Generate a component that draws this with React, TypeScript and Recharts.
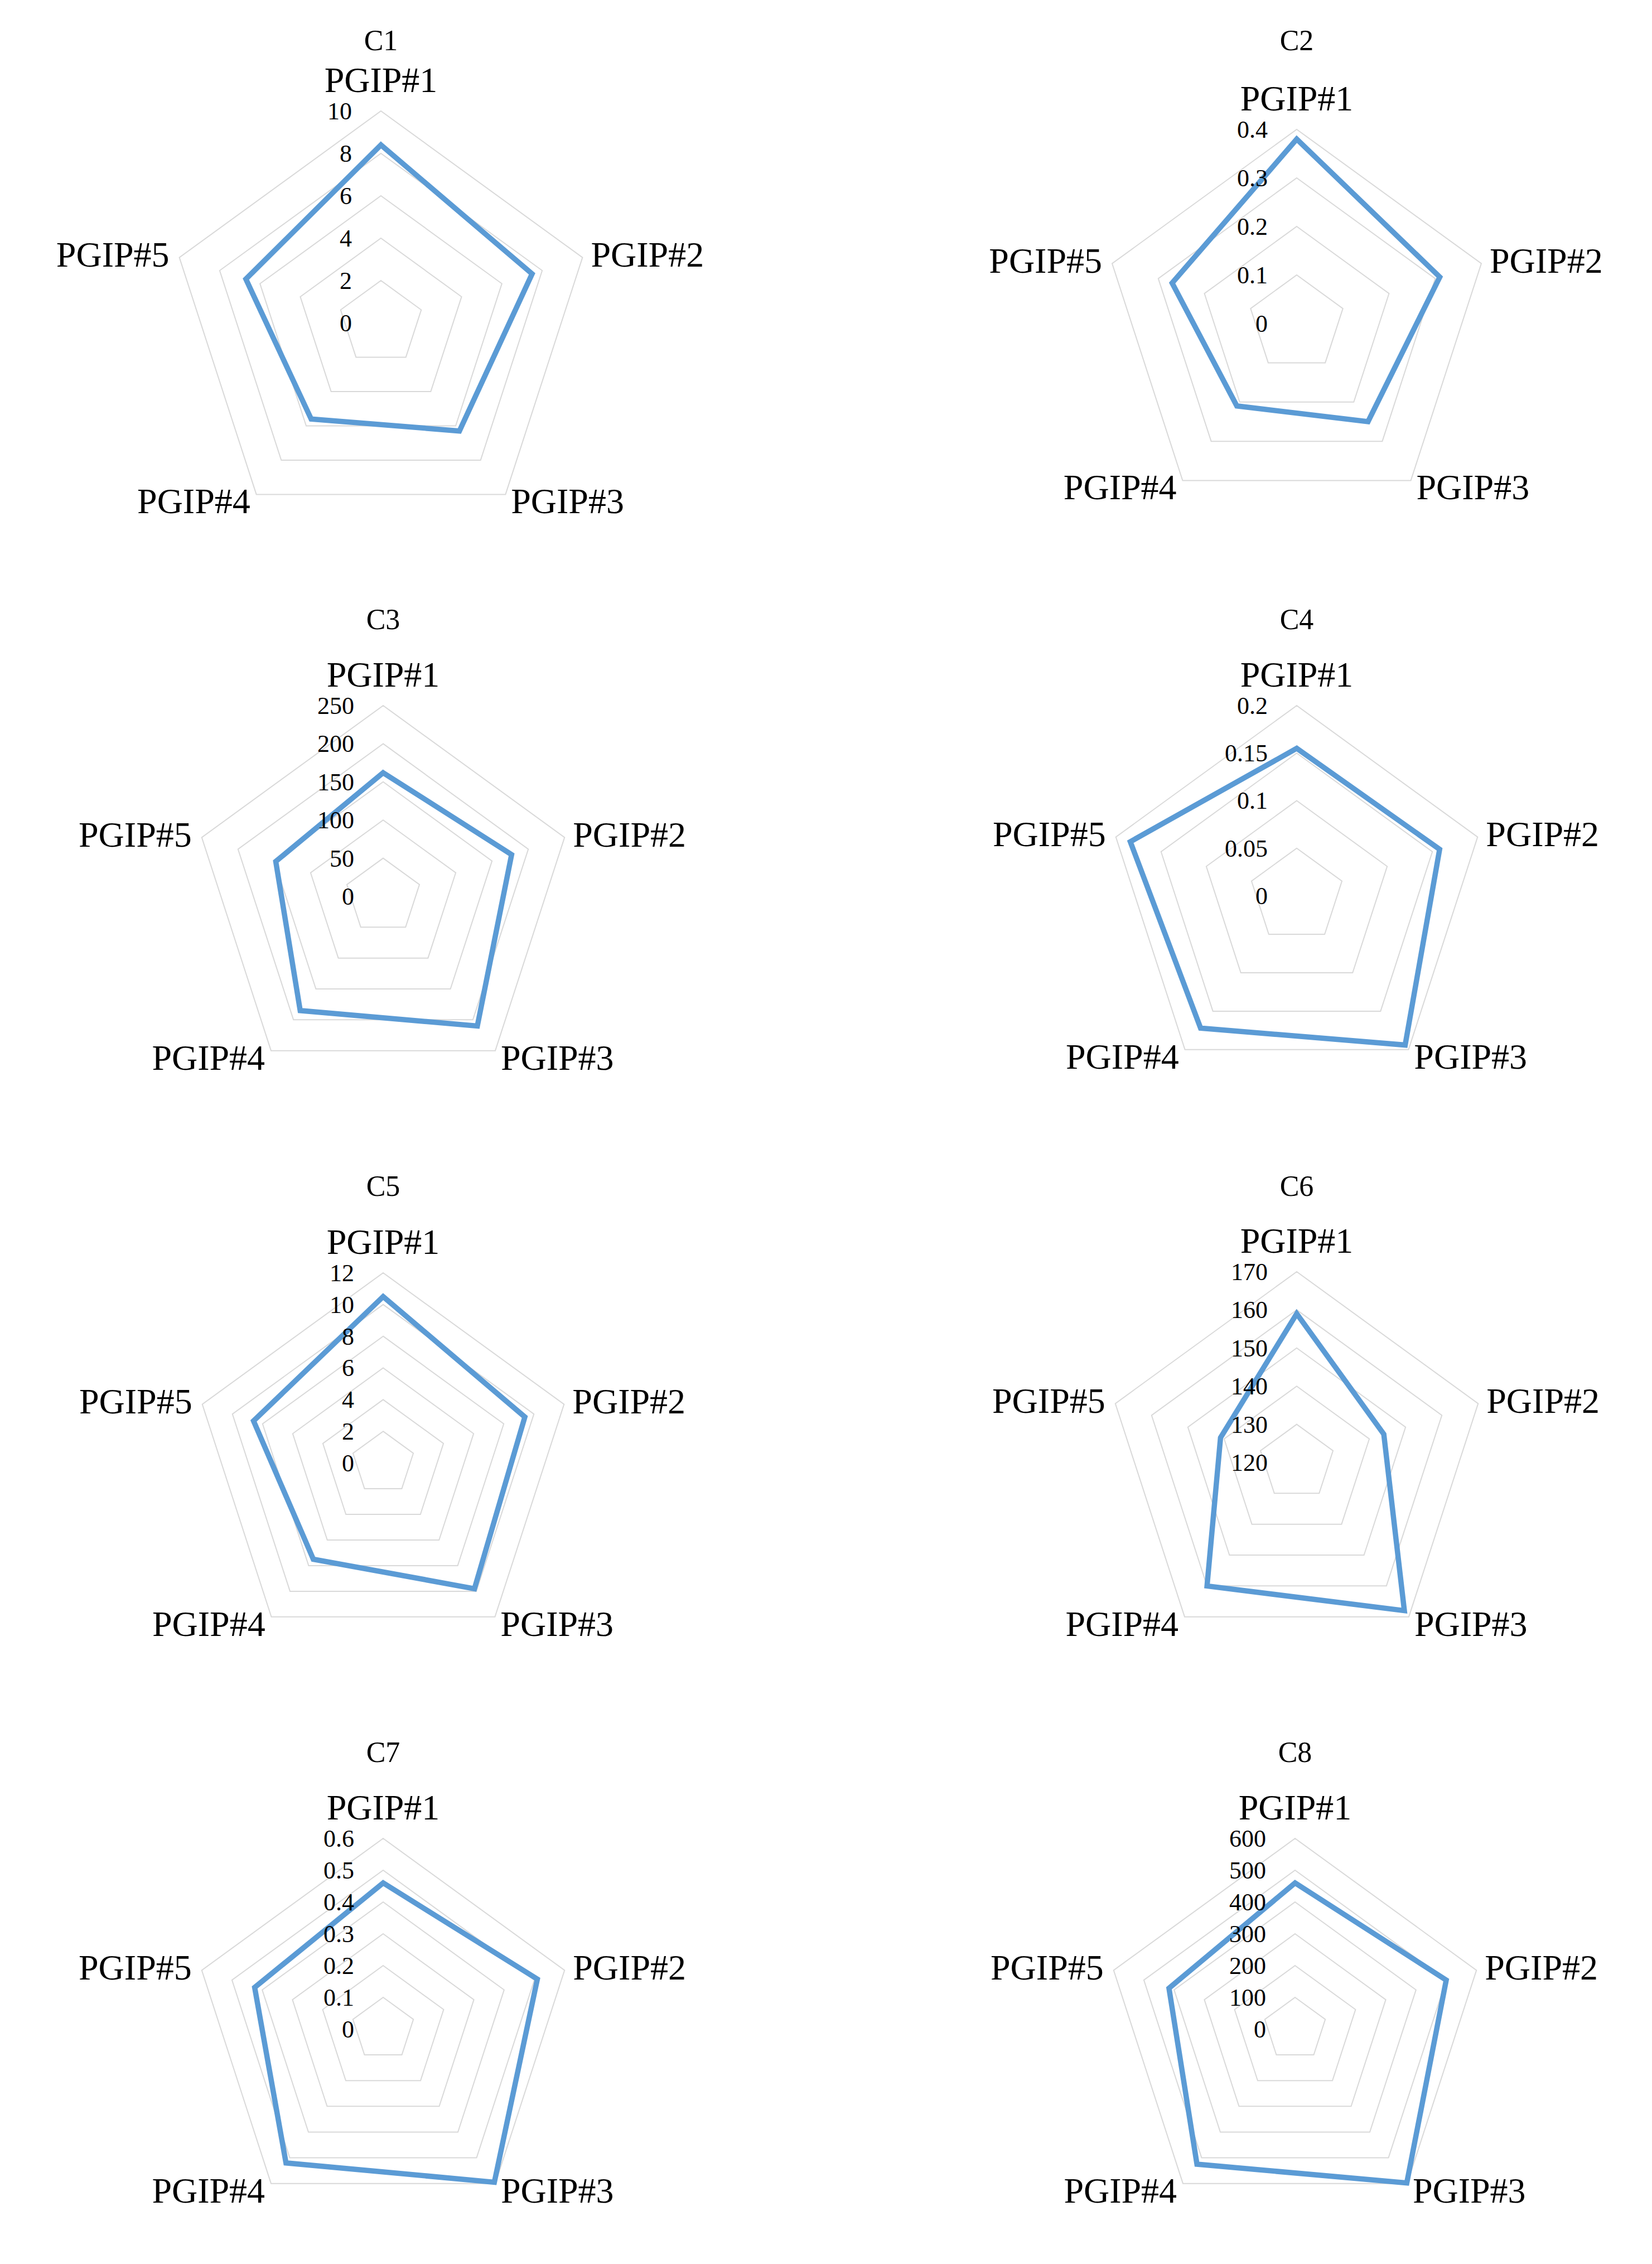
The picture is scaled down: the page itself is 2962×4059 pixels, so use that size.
import React from 'react';
import { RadarChart, Radar, PolarGrid, PolarAngleAxis, PolarRadiusAxis } from 'recharts';

const categories = ['PGIP#1', 'PGIP#2', 'PGIP#3', 'PGIP#4', 'PGIP#5'];
const titles = ['C1', 'C2', 'C3', 'C4', 'C5', 'C6', 'C7', 'C8'];

const c1Values = [8.4, 7.5, 6.3, 5.6, 6.7];
const c2Values = [0.38, 0.31, 0.25, 0.21, 0.27];
const c3Values = [162, 177, 210, 185, 148];
const c4Values = [0.155, 0.158, 0.194, 0.172, 0.184];
const c5Values = [10.5, 9.4, 9.8, 7.5, 8.6];
const c6Values = [159, 144, 168, 160, 141];
const c7Values = [0.46, 0.51, 0.595, 0.52, 0.425];
const c8Values = [460, 500, 598, 525, 417];

const c1Ticks = [0, 2, 4, 6, 8, 10];
const c2Ticks = [0, 0.1, 0.2, 0.3, 0.4];
const c3Ticks = [0, 50, 100, 150, 200, 250];
const c4Ticks = [0, 0.05, 0.1, 0.15, 0.2];
const c5Ticks = [0, 2, 4, 6, 8, 10, 12];
const c6Ticks = [120, 130, 140, 150, 160, 170];
const c7Ticks = [0, 0.1, 0.2, 0.3, 0.4, 0.5, 0.6];
const c8Ticks = [0, 100, 200, 300, 400, 500, 600];

const allValues = [c1Values, c2Values, c3Values, c4Values, c5Values, c6Values, c7Values, c8Values];
const allTicks = [c1Ticks, c2Ticks, c3Ticks, c4Ticks, c5Ticks, c6Ticks, c7Ticks, c8Ticks];

const FONT = "'Liberation Serif', 'Times New Roman', serif";
const BLUE = '#5B9BD5';
const GRID = '#D9D9D9';
const BOX_W = 1481;
const BOX_H = 1015;

// panel placement: box corner, centre inside the box, outer radius, title centre y
const layout = [
  { left: 0, top: 0, cx: 683, cy: 579, r: 380, titleY: 73 },
  { left: 1481, top: 0, cx: 844, cy: 580, r: 348, titleY: 73 },
  { left: 0, top: 1015, cx: 687, cy: 592, r: 342, titleY: 96 },
  { left: 1481, top: 1015, cx: 844, cy: 591, r: 341, titleY: 96 },
  { left: 0, top: 2030, cx: 687, cy: 593, r: 341, titleY: 97 },
  { left: 1481, top: 2030, cx: 844, cy: 592, r: 342, titleY: 97 },
  { left: 0, top: 3045, cx: 687, cy: 593, r: 342, titleY: 97 },
  { left: 1481, top: 3045, cx: 841, cy: 593, r: 342, titleY: 97 },
];

const LABEL_GAP = 10;
const labelOffsets = [
  { dx: 0, dy: -24, anchor: 'middle', shift: 0 },
  { dx: 5.5, dy: -2, anchor: 'start', shift: 0.34 },
  { dx: 4, dy: 4, anchor: 'start', shift: 0.34 },
  { dx: -5, dy: 4, anchor: 'end', shift: 0.34 },
  { dx: -8.5, dy: -2, anchor: 'end', shift: 0.34 },
];

function CategoryTick(props: any) {
  const { x, y, payload } = props;
  let idx = typeof props.index === 'number' ? props.index : categories.indexOf(payload.value);
  const o = labelOffsets[idx] || labelOffsets[0];
  return (
    <text
      x={x + o.dx}
      y={y + o.dy}
      dy={`${o.shift}em`}
      textAnchor={o.anchor}
      fontSize={64}
      fontFamily={FONT}
      fill="#000"
    >
      {payload.value}
    </text>
  );
}

function ValueTick(props: any) {
  const { x, y, payload } = props;
  const v = parseFloat(Number(payload.value).toFixed(4));
  return (
    <text x={x - 52} y={y} dy="0.34em" textAnchor="end" fontSize={44} fontFamily={FONT} fill="#000">
      {String(v)}
    </text>
  );
}

function Panel({ i }: { i: number }) {
  const pos = layout[i];
  const ticks = allTicks[i];
  const data = categories.map((name, k) => ({ name, value: allValues[i][k] }));
  return (
    <div style={{ position: 'absolute', left: pos.left, top: pos.top, width: BOX_W, height: BOX_H }}>
      <div
        style={{
          position: 'absolute',
          left: pos.cx - 200,
          top: pos.titleY - 30,
          width: 400,
          height: 60,
          lineHeight: '60px',
          textAlign: 'center',
          fontFamily: FONT,
          fontSize: 52,
          color: '#000',
        }}
      >
        {titles[i]}
      </div>
      <RadarChart
        width={BOX_W}
        height={BOX_H}
        cx={pos.cx}
        cy={pos.cy}
        outerRadius={pos.r}
        data={data}
        margin={{ top: 0, right: 0, bottom: 0, left: 0 }}
      >
        <PolarGrid gridType="polygon" radialLines={false} stroke={GRID} strokeWidth={2} />
        <PolarAngleAxis
          dataKey="name"
          tick={CategoryTick}
          tickSize={LABEL_GAP}
          tickLine={false}
          axisLine={false}
        />
        <PolarRadiusAxis
          angle={90}
          type="number"
          domain={[ticks[0], ticks[ticks.length - 1]]}
          ticks={ticks as any}
          tickCount={ticks.length}
          allowDecimals={true}
          allowDataOverflow={true}
          axisLine={false}
          tick={ValueTick}
        />
        <Radar
          dataKey="value"
          stroke={BLUE}
          strokeWidth={9.5}
          fill="none"
          fillOpacity={0}
          dot={false}
          isAnimationActive={false}
        />
      </RadarChart>
    </div>
  );
}

export default function App() {
  return (
    <div style={{ position: 'absolute', left: 0, top: 0, width: 2962, height: 4059, background: '#fff' }}>
      {titles.map((_, i) => (
        <Panel key={i} i={i} />
      ))}
    </div>
  );
}
